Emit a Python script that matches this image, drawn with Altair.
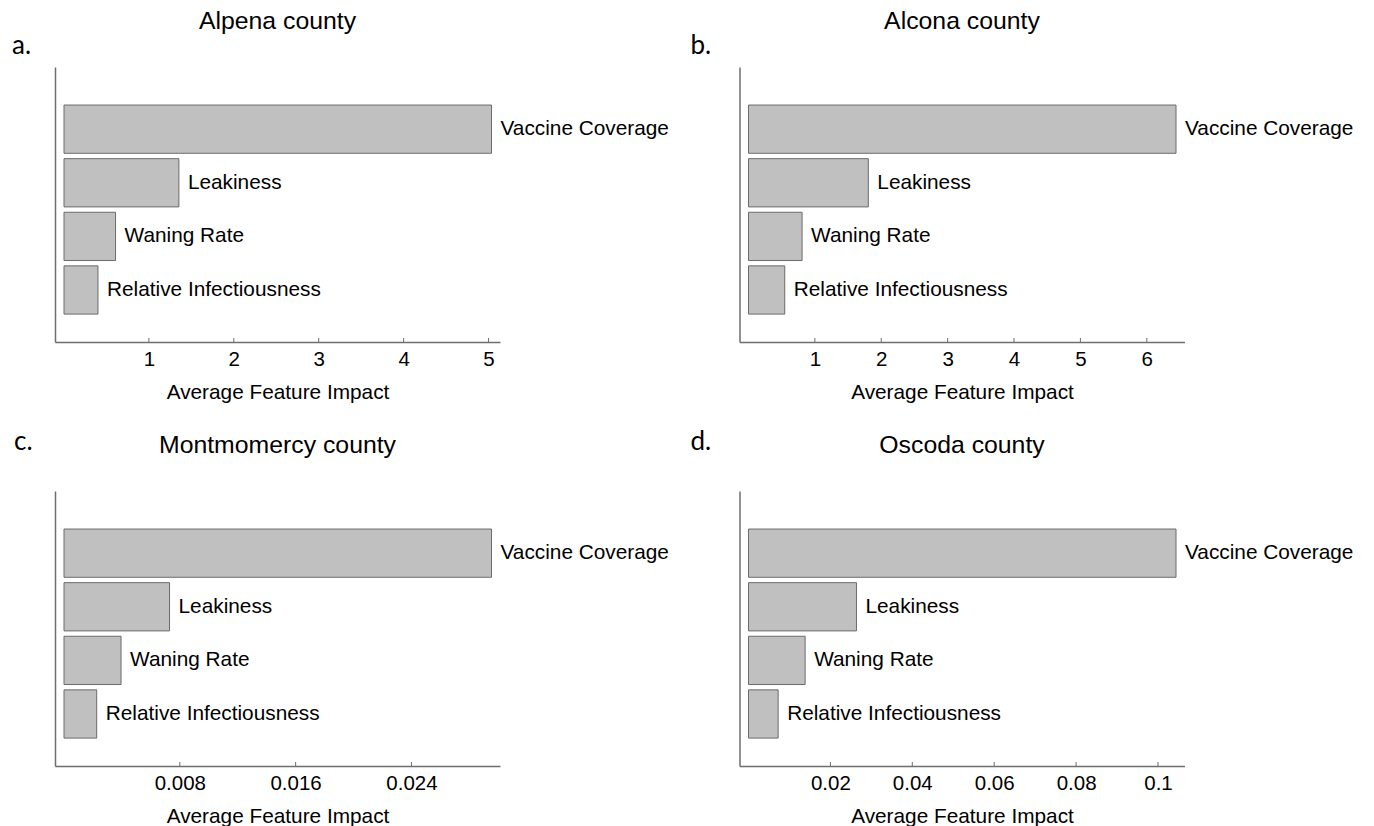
import altair as alt
import pandas as pd

features = ["Vaccine Coverage", "Leakiness", "Waning Rate", "Relative Infectiousness"]

alpena = [5.035, 1.353, 0.607, 0.40]
alcona = [6.44, 1.805, 0.807, 0.546]
montmorency = [0.02953, 0.00729, 0.00394, 0.00226]
oscoda = [0.1044, 0.02637, 0.01383, 0.00724]

ticks_a = [1, 2, 3, 4, 5]
ticks_b = [1, 2, 3, 4, 5, 6]
ticks_c = [0.008, 0.016, 0.024]
ticks_d = [0.02, 0.04, 0.06, 0.08, 0.1]

titles = ["Alpena county", "Alcona county", "Montmomercy county", "Oscoda county"]
letters = ["a.", "b.", "c.", "d."]

W, H = 445, 275
FONT = "Liberation Sans"
AXIS_COLOR = "#6e6e6e"
BAR_FILL = "#c0c0c0"
BAR_STROKE = "#6b6b6b"


def panel(title, letter, values, ticks, letter_x, letter_y):
    df = pd.DataFrame({"feature": features, "impact": values})
    m = max(values)
    k = (W - 17.5) / m
    dom = [-9.0 / k, m + 8.5 / k]
    xscale = alt.Scale(domain=dom, nice=False, zero=False)
    x = alt.X(
        "impact:Q",
        scale=xscale,
        axis=alt.Axis(
            values=ticks, format="~g", ticks=False, grid=False,
            labelPadding=7, labelFontSize=20.5, labelFont=FONT, labelColor="black",
            title="Average Feature Impact", titleFontSize=20.8, titleFont=FONT,
            titleFontWeight="normal", titleColor="black", titlePadding=13,
            domainColor=AXIS_COLOR, domainWidth=1.5,
        ),
    )
    y = alt.Y(
        "feature:N", sort=features,
        scale=alt.Scale(paddingInner=0.1, paddingOuter=0.615, align=0.577),
        axis=alt.Axis(labels=False, ticks=False, title=None, grid=False,
                      domainColor=AXIS_COLOR, domainWidth=1.5),
    )
    base = alt.Chart(df)
    bars = base.mark_bar(fill=BAR_FILL, stroke=BAR_STROKE, strokeWidth=1).encode(
        x=x, x2=alt.datum(0), y=y
    )
    labels = base.mark_text(align="left", baseline="middle", dx=9, fontSize=20.8,
                            font=FONT, color="black").encode(
        x=alt.X("impact:Q"), y=alt.Y("feature:N", sort=features), text="feature:N"
    )
    tick_df = pd.DataFrame({"impact": ticks})
    tickmarks = alt.Chart(tick_df).mark_rule(color=AXIS_COLOR, strokeWidth=1).encode(
        x=alt.X("impact:Q"), y=alt.value(H), y2=alt.value(H - 4)
    )
    ttl = alt.Chart(pd.DataFrame({"t": [title]})).mark_text(
        fontSize=24.8, font=FONT, align="center", baseline="alphabetic", color="black"
    ).encode(x=alt.value(W / 2), y=alt.value(-37.7), text="t:N")
    let = alt.Chart(pd.DataFrame({"t": [letter]})).mark_text(
        fontSize=26, font="Lato", align="left", baseline="alphabetic", color="black"
    ).encode(x=alt.value(letter_x), y=alt.value(letter_y), text="t:N")
    return alt.layer(bars, labels, tickmarks, ttl, let).properties(width=W, height=H)


pa = panel(titles[0], letters[0], alpena, ticks_a, -43, -13)
pb = panel(titles[1], letters[1], alcona, ticks_b, -49, -13)
pc = panel(titles[2], letters[2], montmorency, ticks_c, -41, -41)
pd_ = panel(titles[3], letters[3], oscoda, ticks_d, -49, -41)

chart = alt.concat(
    pa, pb, pc, pd_, columns=2,
    spacing=alt.RowColnumber(row=149, column=239.5), bounds="flush",
).properties(
    padding={"left": 4, "top": 1, "right": 5, "bottom": 0}
).configure(background="white").configure_view(strokeWidth=0, stroke="transparent")

chart.save("out.html", embed_options={"renderer": "svg", "actions": False})
